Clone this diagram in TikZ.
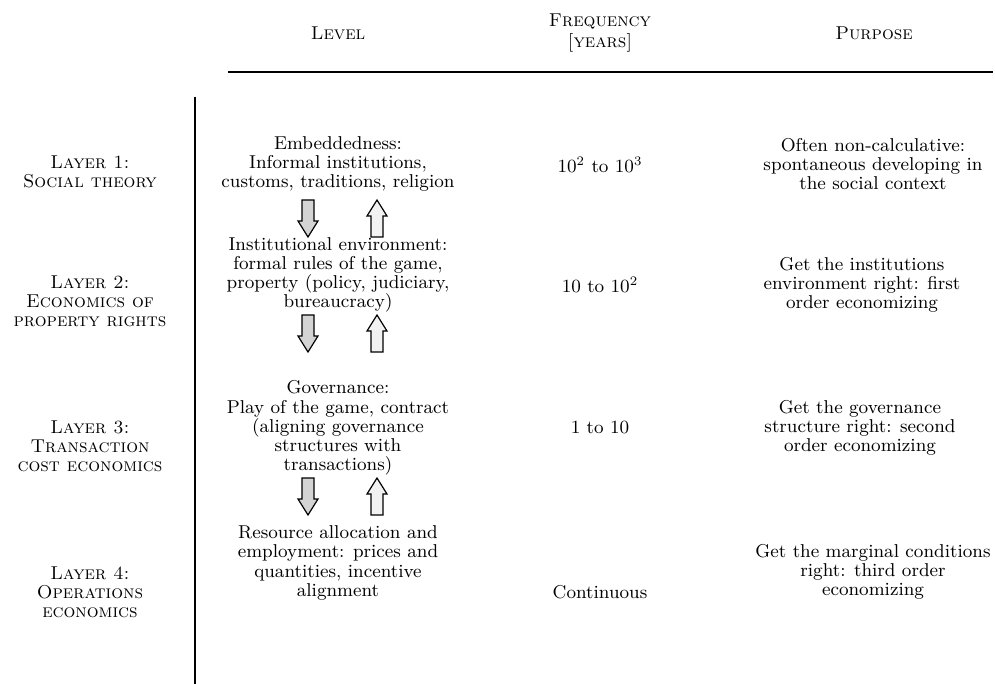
\documentclass[tikz,border=0pt]{standalone}
\begin{document}
\begin{tikzpicture}[x=0.5pt,y=-0.5pt,
  txt/.style={align=center, inner sep=0pt, font=\fontsize{9.3}{9.6}\selectfont},
  rulebar/.style={line width=1.2pt},
  blockarrow/.style={draw=black, line width=0.6pt, line join=miter},
  downfill/.style={blockarrow, fill=black!17},
  upfill/.style={blockarrow, fill=black!5}]
\useasboundingbox (0,0) rectangle (995,684);

% column headings
\node[txt] (hLevel) at (338,33) {\textsc{Level}};
\node[txt] (hFreq)  at (600,33) {\textsc{Frequency}\\[1pt]\textsc{[years]}};
\node[txt] (hPurp)  at (874,33) {\textsc{Purpose}};

% frame lines
\coordinate (ruleL) at (228,72);
\coordinate (ruleR) at (993,72);
\draw[rulebar] (ruleL) -- (ruleR);
\coordinate (axisT) at (195,97);
\coordinate (axisB) at (195,684);
\draw[rulebar] (axisT) -- (axisB);

% layer names
\node[txt] (lay1) at (90,172) {\textsc{Layer 1:}\\\textsc{Social theory}};
\node[txt] (lay2) at (90,301) {\textsc{Layer 2:}\\\textsc{Economics of}\\\textsc{property rights}};
\node[txt] (lay3) at (90,446) {\textsc{Layer 3:}\\\textsc{Transaction}\\\textsc{cost economics}};
\node[txt] (lay4) at (90,592) {\textsc{Layer 4:}\\\textsc{Operations}\\\textsc{economics}};

% level descriptions
\node[txt] (lev1) at (338,164) {Embeddedness:\\Informal institutions,\\customs, traditions, religion};
\node[txt] (lev2) at (338,275) {Institutional environment:\\formal rules of the game,\\property (policy, judiciary,\\bureaucracy)};
\node[txt] (lev3) at (338,428) {Governance:\\Play of the game, contract\\(aligning governance\\structures with\\transactions)};
\node[txt] (lev4) at (338,563) {Resource allocation and\\employment: prices and\\quantities, incentive\\alignment};

% frequencies
\node[txt] (frq1) at (600,165) {10\textsuperscript{2} to 10\textsuperscript{3}};
\node[txt] (frq2) at (600,285) {10 to 10\textsuperscript{2}};
\node[txt] (frq3) at (600,428) {1 to 10};
\node[txt] (frq4) at (600,592) {Continuous};

% purposes
\node[txt] (pur1) at (873,164) {Often non-calculative:\\spontaneous developing in\\the social context};
\node[txt] (pur2) at (862,285) {Get the institutions\\environment right: first\\order economizing};
\node[txt] (pur3) at (860,428) {Get the governance\\structure right: second\\order economizing};
\node[txt] (pur4) at (873,572) {Get the marginal conditions\\right: third order\\economizing};

% block arrows between levels (#1 = x of centre, #2 = top end)
\newcommand\downblock[2]{%
  \draw[downfill] (#1-6,#2) -- (#1+6,#2) -- (#1+6,#2+21) -- (#1+10,#2+21)
    -- (#1,#2+37) -- (#1-10,#2+21) -- (#1-6,#2+21) -- cycle;}
\newcommand\upblock[2]{%
  \draw[upfill] (#1-6,#2+37) -- (#1+6,#2+37) -- (#1+6,#2+16) -- (#1+10,#2+16)
    -- (#1,#2) -- (#1-10,#2+16) -- (#1-6,#2+16) -- cycle;}
\downblock{308}{200}
\upblock{377}{200}
\downblock{308}{315}
\upblock{377}{315}
\downblock{308}{478}
\upblock{377}{478}
\end{tikzpicture}
\end{document}
